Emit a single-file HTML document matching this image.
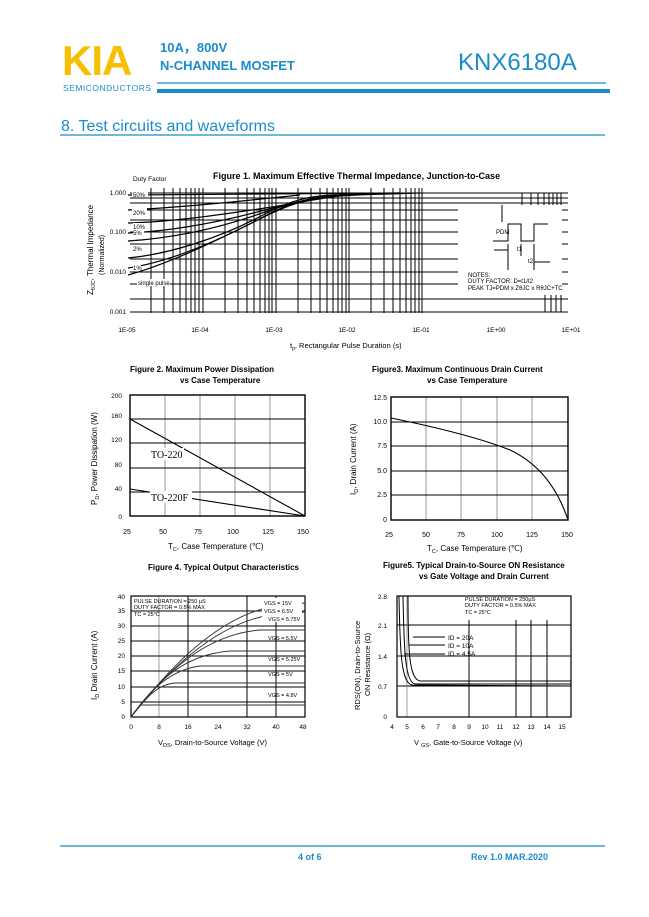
<!DOCTYPE html>
<html><head><meta charset="utf-8"><style>
html,body{margin:0;padding:0;background:#fff;}
svg{display:block;font-family:"Liberation Sans",Arial,sans-serif;}
</style></head><body>
<svg width="649" height="917" viewBox="0 0 649 917" xmlns="http://www.w3.org/2000/svg">
<!-- Header -->
<text x="62" y="75" font-size="42" font-weight="bold" fill="#f6c000" letter-spacing="-1">KIA</text>
<text x="63" y="91" font-size="8.5" fill="#1a8ccc" letter-spacing="0.5">SEMICONDUCTORS</text>
<text x="160" y="52" font-size="13" font-weight="bold" fill="#1a8ccc">10A，800V</text>
<text x="160" y="70" font-size="13" font-weight="bold" fill="#1a8ccc">N-CHANNEL MOSFET</text>
<text x="458" y="70" font-size="24" fill="#1a8ccc">KNX6180A</text>
<line x1="157" y1="83" x2="606" y2="83" stroke="#1a8ccc" stroke-width="1.2"/>
<line x1="157" y1="91" x2="610" y2="91" stroke="#1a8ccc" stroke-width="4"/>
<text x="61" y="131" font-size="16" fill="#1a8ccc">8. Test circuits and waveforms</text>
<line x1="60" y1="135" x2="605" y2="135" stroke="#1a8ccc" stroke-width="1.2"/>

<!-- Figure 1 -->
<text x="213" y="179" font-size="9" font-weight="bold">Figure 1. Maximum Effective Thermal Impedance, Junction-to-Case</text>
<text x="133" y="181" font-size="6.5">Duty Factor</text>
<g stroke="#000" stroke-width="1.1">
<line x1="130" y1="193" x2="568" y2="193"/>
<line x1="130" y1="232" x2="568" y2="232"/>
<line x1="130" y1="272" x2="568" y2="272"/>
<line x1="130" y1="312" x2="568" y2="312"/>
<line x1="130" y1="198" x2="568" y2="198"/>
<line x1="130" y1="203" x2="568" y2="203"/>
<line x1="130" y1="210" x2="568" y2="210"/>
<line x1="130" y1="220" x2="568" y2="220"/>
<line x1="130" y1="244" x2="568" y2="244"/>
<line x1="130" y1="259" x2="568" y2="259"/>
<line x1="130" y1="284" x2="568" y2="284"/>
<line x1="130" y1="299" x2="568" y2="299"/>
</g>
<g stroke="#000" stroke-width="1">
<line x1="151" y1="188" x2="151" y2="313"/><line x1="164" y1="188" x2="164" y2="313"/><line x1="173" y1="188" x2="173" y2="313"/><line x1="180" y1="188" x2="180" y2="313"/><line x1="186" y1="188" x2="186" y2="313"/><line x1="191" y1="188" x2="191" y2="313"/><line x1="195" y1="188" x2="195" y2="313"/><line x1="199" y1="188" x2="199" y2="313"/><line x1="203" y1="188" x2="203" y2="313"/>
<line x1="225" y1="188" x2="225" y2="313"/><line x1="238" y1="188" x2="238" y2="313"/><line x1="247" y1="188" x2="247" y2="313"/><line x1="254" y1="188" x2="254" y2="313"/><line x1="260" y1="188" x2="260" y2="313"/><line x1="265" y1="188" x2="265" y2="313"/><line x1="269" y1="188" x2="269" y2="313"/><line x1="272" y1="188" x2="272" y2="313"/><line x1="276" y1="188" x2="276" y2="313"/>
<line x1="298" y1="188" x2="298" y2="313"/><line x1="311" y1="188" x2="311" y2="313"/><line x1="320" y1="188" x2="320" y2="313"/><line x1="327" y1="188" x2="327" y2="313"/><line x1="333" y1="188" x2="333" y2="313"/><line x1="338" y1="188" x2="338" y2="313"/><line x1="342" y1="188" x2="342" y2="313"/><line x1="346" y1="188" x2="346" y2="313"/><line x1="349" y1="188" x2="349" y2="313"/>
<line x1="371" y1="188" x2="371" y2="313"/><line x1="384" y1="188" x2="384" y2="313"/><line x1="393" y1="188" x2="393" y2="313"/><line x1="400" y1="188" x2="400" y2="313"/><line x1="406" y1="188" x2="406" y2="313"/><line x1="411" y1="188" x2="411" y2="313"/><line x1="415" y1="188" x2="415" y2="313"/><line x1="419" y1="188" x2="419" y2="313"/><line x1="422" y1="188" x2="422" y2="313"/>
<line x1="522" y1="193" x2="522" y2="210"/><line x1="531" y1="193" x2="531" y2="210"/><line x1="538" y1="193" x2="538" y2="210"/><line x1="544" y1="193" x2="544" y2="210"/><line x1="549" y1="193" x2="549" y2="210"/><line x1="553" y1="193" x2="553" y2="210"/><line x1="557" y1="193" x2="557" y2="210"/><line x1="561" y1="193" x2="561" y2="210"/>
<line x1="545" y1="295" x2="545" y2="312"/><line x1="551" y1="295" x2="551" y2="312"/><line x1="556" y1="295" x2="556" y2="312"/><line x1="561" y1="295" x2="561" y2="312"/>
</g>
<rect x="458" y="205" width="104" height="85" fill="#fff"/>
<g stroke="#000" stroke-width="1.2" fill="none">
<path d="M128 223 C170 222 220 215 265 208 S330 196 360 194"/>
<path d="M128 233 C175 231 220 222 265 210 S330 196 360 194"/>
<path d="M128 241 C175 238 220 228 265 212 S330 196 380 193"/>
<path d="M128 258 C170 254 220 238 265 214 S330 196 400 193"/>
<path d="M128 268 C170 262 220 240 265 216 S330 196 410 193"/>
<path d="M128 275 C175 262 225 236 268 215 S330 196 420 193"/>
<path d="M128 195 L400 193"/>
<path d="M128 210 C190 207 250 200 300 195"/>
</g>
<g fill="#fff"><rect x="132" y="190" width="16" height="7"/><rect x="132" y="208" width="15" height="7"/><rect x="133" y="223" width="13" height="6"/><rect x="133" y="229" width="11" height="6"/><rect x="133" y="245" width="10" height="6"/><rect x="133" y="264" width="8" height="6"/><rect x="137" y="279" width="33" height="7"/></g>
<g font-size="6">
<text x="133" y="197">50%</text><text x="133" y="215">20%</text><text x="133" y="229">10%</text><text x="133" y="235">5%</text><text x="133" y="251">2%</text><text x="133" y="270">1%</text><text x="138" y="285">single pulse</text>
<text x="468" y="277">NOTES:</text><text x="468" y="283">DUTY FACTOR: D=t1/t2</text><text x="468" y="290">PEAK TJ=PDM x ZθJC x RθJC+TC</text>
<text x="496" y="234">PDM</text><text x="517" y="251">t1</text><text x="528" y="263">t2</text>
</g>
<g stroke="#000" stroke-width="1" fill="none">
<path d="M493 241 H508 V224 H521 V241 H534 V224 H548"/>
<line x1="502" y1="205" x2="502" y2="222"/><line x1="508" y1="244" x2="508" y2="270"/><line x1="521" y1="244" x2="521" y2="256"/><line x1="534" y1="244" x2="534" y2="270"/>
<line x1="494" y1="250" x2="508" y2="250"/><line x1="534" y1="262" x2="550" y2="262"/>
</g>
<g font-size="6.5" text-anchor="end"><text x="126" y="195">1.000</text><text x="126" y="234">0.100</text><text x="126" y="274">0.010</text><text x="126" y="314">0.001</text></g>
<g font-size="6.5" text-anchor="middle"><text x="127" y="332">1E-05</text><text x="200" y="332">1E-04</text><text x="274" y="332">1E-03</text><text x="347" y="332">1E-02</text><text x="421" y="332">1E-01</text><text x="496" y="332">1E+00</text><text x="571" y="332">1E+01</text></g>
<text x="290" y="348" font-size="7.5">t<tspan font-size="5" dy="2">p</tspan><tspan dy="-2">, Rectangular Pulse Duration (s)</tspan></text>
<text transform="translate(93,295) rotate(-90)" font-size="8">Z<tspan font-size="5.5" dy="2">θJC</tspan><tspan dy="-2">, Thermal Impedance</tspan></text>
<text transform="translate(104,275) rotate(-90)" font-size="7">(Normalized)</text>

<!-- Figure 2 -->
<text x="130" y="372" font-size="8" font-weight="bold">Figure 2.  Maximum Power Dissipation</text>
<text x="180" y="383" font-size="8" font-weight="bold">vs Case Temperature</text>
<g stroke="#555" stroke-width="0.6"><line x1="165" y1="395" x2="165" y2="516"/><line x1="200" y1="395" x2="200" y2="516"/><line x1="235" y1="395" x2="235" y2="516"/><line x1="270" y1="395" x2="270" y2="516"/></g>
<g stroke="#000" stroke-width="1"><line x1="130" y1="419" x2="305" y2="419"/><line x1="130" y1="443" x2="305" y2="443"/><line x1="130" y1="468" x2="305" y2="468"/><line x1="130" y1="492" x2="305" y2="492"/></g>
<rect x="130" y="395" width="175" height="121" fill="none" stroke="#000" stroke-width="1.4"/>
<g stroke="#000" stroke-width="1.1"><line x1="130" y1="419" x2="305" y2="516"/><line x1="130" y1="489" x2="305" y2="516"/></g>
<rect x="150" y="448" width="34" height="12" fill="#fff"/><text x="151" y="458" font-size="10" font-family="Liberation Serif,serif">TO-220</text>
<rect x="150" y="491" width="42" height="12" fill="#fff"/><text x="151" y="501" font-size="10" font-family="Liberation Serif,serif">TO-220F</text>
<g font-size="6.5" text-anchor="end"><text x="122" y="398">200</text><text x="122" y="418">160</text><text x="122" y="442">120</text><text x="122" y="467">80</text><text x="122" y="491">40</text><text x="122" y="519">0</text></g>
<g font-size="7" text-anchor="middle"><text x="127" y="534">25</text><text x="163" y="534">50</text><text x="198" y="534">75</text><text x="233" y="534">100</text><text x="268" y="534">125</text><text x="303" y="534">150</text></g>
<text x="168" y="549" font-size="8">T<tspan font-size="5.5" dy="2">C</tspan><tspan dy="-2">, Case Temperature (℃)</tspan></text>
<text transform="translate(97,505) rotate(-90)" font-size="8">P<tspan font-size="5.5" dy="2">D</tspan><tspan dy="-2">, Power Dissipation (W)</tspan></text>

<!-- Figure 3 -->
<text x="372" y="372" font-size="8" font-weight="bold">Figure3.   Maximum Continuous Drain Current</text>
<text x="427" y="383" font-size="8" font-weight="bold">vs Case Temperature</text>
<g stroke="#555" stroke-width="0.6"><line x1="426" y1="397" x2="426" y2="520"/><line x1="461" y1="397" x2="461" y2="520"/><line x1="497" y1="397" x2="497" y2="520"/><line x1="532" y1="397" x2="532" y2="520"/></g>
<g stroke="#000" stroke-width="1"><line x1="391" y1="422" x2="568" y2="422"/><line x1="391" y1="446" x2="568" y2="446"/><line x1="391" y1="471" x2="568" y2="471"/><line x1="391" y1="495" x2="568" y2="495"/></g>
<rect x="391" y="397" width="177" height="123" fill="none" stroke="#000" stroke-width="1.4"/>
<path d="M391 418 C440 428 480 438 510 450 C540 464 558 490 568 520" stroke="#000" stroke-width="1.1" fill="none"/>
<g font-size="7" text-anchor="end"><text x="387" y="400">12.5</text><text x="387" y="424">10.0</text><text x="387" y="448">7.5</text><text x="387" y="473">5.0</text><text x="387" y="497">2.5</text><text x="387" y="522">0</text></g>
<g font-size="7" text-anchor="middle"><text x="389" y="537">25</text><text x="426" y="537">50</text><text x="461" y="537">75</text><text x="497" y="537">100</text><text x="532" y="537">125</text><text x="567" y="537">150</text></g>
<text x="427" y="551" font-size="8">T<tspan font-size="5.5" dy="2">C</tspan><tspan dy="-2">, Case Temperature (℃)</tspan></text>
<text transform="translate(356,495) rotate(-90)" font-size="8">I<tspan font-size="5.5" dy="2">D</tspan><tspan dy="-2">, Drain Current (A)</tspan></text>

<!-- Figure 4 -->
<text x="148" y="570" font-size="8" font-weight="bold">Figure 4. Typical Output Characteristics</text>
<g stroke="#777" stroke-width="0.7"><line x1="159" y1="596" x2="159" y2="717"/></g>
<g stroke="#000" stroke-width="1"><line x1="188" y1="596" x2="188" y2="717"/><line x1="247" y1="596" x2="247" y2="717"/><line x1="276" y1="596" x2="276" y2="717"/>
<line x1="131" y1="611" x2="305" y2="611"/><line x1="131" y1="626" x2="305" y2="626"/><line x1="131" y1="641" x2="305" y2="641"/><line x1="131" y1="656" x2="305" y2="656"/><line x1="131" y1="671" x2="305" y2="671"/><line x1="131" y1="687" x2="305" y2="687"/><line x1="131" y1="702" x2="305" y2="702"/></g>
<rect x="131" y="596" width="174" height="121" fill="none" stroke="#000" stroke-width="1.2"/>
<g stroke="#333" stroke-width="0.9" fill="none">
<path d="M131 717 L140 705 L305 705"/>
<path d="M131 717 C145 700 155 685 175 683 L305 683"/>
<path d="M131 717 C150 690 170 670 200 666 L305 666"/>
<path d="M131 717 C155 685 180 655 230 651 L305 651"/>
<path d="M131 717 C160 680 200 635 260 630 L305 630"/>
<path d="M131 717 C160 680 210 625 270 615 L305 612"/>
<path d="M131 717 C160 680 210 620 270 607 L305 603"/>
</g>
<g font-size="5.5" fill="#000">
<rect x="262" y="598" width="40" height="24" fill="#fff"/>
<text x="264" y="605">VGS = 15V</text><text x="264" y="613">VGS = 6.5V</text><text x="268" y="621">VGS = 5.75V</text>
<text x="268" y="640">VGS = 5.5V</text><text x="268" y="661">VGS = 5.25V</text><text x="268" y="676">VGS = 5V</text><text x="268" y="697">VGS = 4.8V</text>
<text x="134" y="603">PULSE DURATION = 250 μS</text><text x="134" y="609">DUTY FACTOR = 0.5% MAX</text><text x="134" y="616">TC = 25°C</text>
</g>
<g font-size="6.5" text-anchor="end"><text x="125" y="599">40</text><text x="125" y="613">35</text><text x="125" y="628">30</text><text x="125" y="643">25</text><text x="125" y="658">20</text><text x="125" y="673">15</text><text x="125" y="689">10</text><text x="125" y="704">5</text><text x="125" y="719">0</text></g>
<g font-size="6.5" text-anchor="middle"><text x="131" y="729">0</text><text x="159" y="729">8</text><text x="188" y="729">16</text><text x="218" y="729">24</text><text x="247" y="729">32</text><text x="276" y="729">40</text><text x="303" y="729">48</text></g>
<text x="158" y="745" font-size="7.5">V<tspan font-size="5.5" dy="2">DS</tspan><tspan dy="-2">, Drain-to-Source Voltage (V)</tspan></text>
<text transform="translate(97,700) rotate(-90)" font-size="8">I<tspan font-size="5.5" dy="2">D</tspan><tspan dy="-2"> Drain Current (A)</tspan></text>

<!-- Figure 5 -->
<text x="383" y="568" font-size="8" font-weight="bold">Figure5.  Typical Drain-to-Source ON Resistance</text>
<text x="419" y="579" font-size="8" font-weight="bold">vs Gate Voltage and Drain Current</text>
<g stroke="#000" stroke-width="1"><line x1="469" y1="620" x2="469" y2="717"/><line x1="516" y1="620" x2="516" y2="717"/><line x1="531" y1="620" x2="531" y2="717"/><line x1="547" y1="620" x2="547" y2="717"/>
<line x1="397" y1="625" x2="571" y2="625"/><line x1="397" y1="656" x2="571" y2="656"/><line x1="397" y1="686" x2="571" y2="686"/></g>
<g stroke="#777" stroke-width="0.7"><line x1="407" y1="596" x2="407" y2="717"/></g>
<rect x="397" y="596" width="174" height="121" fill="none" stroke="#000" stroke-width="1.2"/>
<g stroke="#000" stroke-width="1" fill="none">
<path d="M399 596 C400 650 401 683 412 685 L571 686"/>
<path d="M403 596 C404 650 405 682 415 684 L571 684"/>
<path d="M408 596 C408 650 409 679 420 681 L571 681"/>
</g>
<g stroke="#000" stroke-width="1"><line x1="413" y1="637" x2="445" y2="637"/><line x1="409" y1="645" x2="445" y2="645"/><line x1="404" y1="654" x2="445" y2="654"/></g>
<g font-size="6.5"><text x="448" y="640">ID = 20A</text><text x="448" y="648">ID = 10A</text><text x="448" y="656">ID = 4.5A</text></g>
<g font-size="5.5"><text x="465" y="601">PULSE DURATION = 250μS</text><text x="465" y="607">DUTY FACTOR = 0.5% MAX</text><text x="465" y="614">TC = 25°C</text></g>
<g font-size="6.5" text-anchor="end"><text x="387" y="599">2.8</text><text x="387" y="628">2.1</text><text x="387" y="659">1.4</text><text x="387" y="689">0.7</text><text x="387" y="719">0</text></g>
<g font-size="6.5" text-anchor="middle"><text x="392" y="729">4</text><text x="407" y="729">5</text><text x="423" y="729">6</text><text x="438" y="729">7</text><text x="454" y="729">8</text><text x="469" y="729">9</text><text x="485" y="729">10</text><text x="500" y="729">11</text><text x="516" y="729">12</text><text x="531" y="729">13</text><text x="547" y="729">14</text><text x="562" y="729">15</text></g>
<text x="414" y="745" font-size="7.5">V <tspan font-size="5.5" dy="2">GS</tspan><tspan dy="-2">, Gate-to-Source Voltage (v)</tspan></text>
<text transform="translate(360,710) rotate(-90)" font-size="7.5">RDS(ON), Drain-to-Source</text>
<text transform="translate(370,696) rotate(-90)" font-size="7.5">ON Resistance (Ω)</text>

<!-- Footer -->
<line x1="60" y1="846" x2="605" y2="846" stroke="#1a8ccc" stroke-width="1.2"/>
<text x="298" y="860" font-size="9" font-weight="bold" fill="#1a8ccc">4 of 6</text>
<text x="471" y="860" font-size="9" font-weight="bold" fill="#1a8ccc">Rev 1.0 MAR.2020</text>
</svg>
</body></html>
